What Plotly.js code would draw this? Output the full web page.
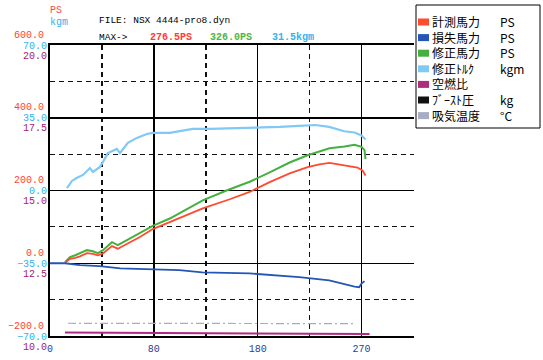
<!DOCTYPE html>
<html><head><meta charset="utf-8">
<script src="https://cdn.plot.ly/plotly-3.0.1.min.js"></script>
<style>html,body{margin:0;padding:0;background:#fff}#chart{width:543px;height:360px}</style>
</head><body><div id="chart"></div>
<script>
// ---- data ----
const rpmMeasured = [13, 17.3, 22, 26, 32, 37.2, 41.5, 45.9, 53.7, 58.8, 64.9, 77.9, 89.1, 103.8, 132.4, 155.8, 173.1, 190.4, 207.7, 223.3, 233.6, 242.3, 255.3, 266.5, 270.9, 273.5];
const psMeasured  = [1, 12, 15, 19, 28, 26, 22, 27, 47, 40, 50, 72, 94, 113, 151, 176, 196, 223, 247, 264, 272, 276, 270, 263, 255, 241];

const rpmCorrected = [13, 17.3, 22, 26, 32, 37.2, 41.5, 45.9, 53.7, 58.8, 64.9, 77.9, 89.1, 103.8, 132.4, 153, 173.1, 190.4, 207.7, 223.3, 242.3, 255.3, 263.9, 270, 272.6, 273.5];
const psCorrected  = [3, 17, 22, 27, 36, 33, 28, 36, 58, 50, 61, 83, 103, 123, 173, 200, 224, 250, 277, 297, 316, 321, 326, 320, 311, 286];

const rpmLoss = [0, 13, 26, 43, 61, 89, 112, 132, 153, 173, 216, 242, 264, 268, 270, 272.6];
const psLoss  = [0, 0, -5, -8, -14, -17, -19, -25, -27.5, -28, -38, -47, -64, -66, -56, -49];

const rpmTorque = [14.7, 19, 23, 28.6, 34.6, 37.2, 43.3, 50.2, 58, 60.6, 67.5, 75.3, 83.9, 89.1, 103.8, 115, 123.7, 138.5, 173, 199, 216, 230, 242, 255, 264, 270, 273.5];
const kgmTorque = [1.2, 4.6, 6, 7.5, 10.8, 8.9, 11.3, 18.0, 20.0, 18.0, 22.9, 25.3, 27.2, 27.7, 27.7, 28.6, 29.6, 29.6, 30.0, 30.6, 31.1, 31.5, 30.6, 28.5, 27.9, 26.5, 24.5];

const rpmAfr = [13, 60, 120, 180, 240, 277];
const afr    = [10.12, 10.11, 10.1, 10.09, 10.08, 10.07];

const rpmIntake = [15.6, 60, 120, 180, 240, 263.9];
const intakeOnPsScale = [-165, -165, -165, -166, -166, -166];

const xTickVals = [0, 90, 180, 270];
const xTickText = ['0', '80', '180', '270'];

const legendNames = ['計測馬力', '損失馬力', '修正馬力', '修正ﾄﾙｸ', '空燃比', 'ﾌﾞｰｽﾄ圧', '吸気温度'];
const legendUnits = ['PS', 'PS', 'PS', 'kgm', '', 'kg', '°C'];
const seriesColors = ['#ff4a2e', '#2456b8', '#45b040', '#80c8f6', '#b02a82', '#111111', '#a9adc4'];

const fileLabel = 'FILE: NSX 4444-pro8.dyn';
const maxPrefix = 'MAX->';
const maxLabels = ['276.5PS', '326.0PS', '31.5kgm'];

// ---- geometry ----
const L = 50, R = 414, T = 45, B = 336;
const px = p => (p - L) / (R - L);
const py = p => (B - p) / (B - T);
const MONO = 'Liberation Mono, DejaVu Sans Mono, monospace';
const JP = 'Noto Sans CJK JP, sans-serif';

const traces = [
  {x: rpmCorrected, y: psCorrected, yaxis: 'y', mode: 'lines', line: {color: seriesColors[2], width: 2}},
  {x: rpmMeasured, y: psMeasured, yaxis: 'y', mode: 'lines', line: {color: seriesColors[0], width: 1.8}},
  {x: rpmLoss, y: psLoss, yaxis: 'y', mode: 'lines', line: {color: seriesColors[1], width: 1.8}},
  {x: rpmTorque, y: kgmTorque, yaxis: 'y2', mode: 'lines', line: {color: seriesColors[3], width: 2.2}},
  {x: rpmAfr, y: afr, yaxis: 'y3', mode: 'lines', line: {color: seriesColors[4], width: 2}},
  {x: rpmIntake, y: intakeOnPsScale, yaxis: 'y', mode: 'lines', line: {color: seriesColors[6], width: 1.2, dash: '8px,3px,2px,3px'}}
];

const shapes = [];
const annotations = [];
// legend box
shapes.push({type: 'rect', xref: 'paper', yref: 'paper', x0: px(416), x1: px(540), y0: py(128), y1: py(5),
  line: {color: '#000', width: 1}, fillcolor: '#fff', layer: 'above'});
const rowGap = 15.6, firstRow = 22;
legendNames.forEach((name, i) => {
  const cy = firstRow + i * rowGap;
  shapes.push({type: 'rect', xref: 'paper', yref: 'paper', x0: px(418), x1: px(429), y0: py(cy + 3.5), y1: py(cy - 3.5),
    line: {width: 0}, fillcolor: seriesColors[i], layer: 'above'});
});
const midRow = firstRow + (legendNames.length - 1) / 2 * rowGap;
annotations.push({xref: 'paper', yref: 'paper', x: px(431), y: py(midRow), xanchor: 'left', yanchor: 'middle', align: 'left',
  text: legendNames.join('<br>'), showarrow: false, borderpad: 0, font: {family: JP, size: 12, color: '#000'}});
annotations.push({xref: 'paper', yref: 'paper', x: px(499), y: py(midRow), xanchor: 'left', yanchor: 'middle', align: 'left',
  text: legendUnits.map(u => u || '\u00a0').join('<br>'), showarrow: false, borderpad: 0, font: {family: JP, size: 12, color: '#000'}});

// header texts
const txt = (x, y, s, color, size, bold) => annotations.push({xref: 'paper', yref: 'paper', x: px(x), y: py(y),
  xanchor: 'left', yanchor: 'middle', text: bold ? '<b>' + s + '</b>' : s, showarrow: false, borderpad: 0,
  font: {family: MONO, size: size, color: color}});
txt(49, 11, 'PS', '#ff4a4a', 10, false);
txt(49, 22, 'kgm', '#33b4ee', 10, false);
txt(98, 20, fileLabel, '#000', 9.5, false);
txt(98, 37, maxPrefix, '#000', 9.5, false);
txt(149, 37, maxLabels[0], '#ff3b3b', 10, true);
txt(209, 37, maxLabels[1], '#4cb648', 10, true);
txt(271, 37, maxLabels[2], '#33b4ee', 10, true);

const layout = {
  width: 543, height: 360,
  margin: {l: L, r: 543 - R, t: T, b: 360 - B, pad: 0},
  paper_bgcolor: '#fff', plot_bgcolor: '#fff',
  showlegend: false,
  xaxis: {
    range: [0, 315.5], tickmode: 'array', tickvals: xTickVals, ticktext: xTickText,
    showgrid: true, gridcolor: '#000', gridwidth: 1.5,
    minor: {tick0: 0, dtick: 45, showgrid: true, gridcolor: '#111', gridwidth: 1.5, griddash: '5px,4px'},
    showline: true, linecolor: '#000', linewidth: 2, mirror: true, zeroline: false, ticks: '',
    tickfont: {family: MONO, size: 10, color: '#1f3f9a'}, ticklabelstandoff: 2
  },
  yaxis: {
    range: [-200, 600], tick0: 0, dtick: 200, tickformat: '.1f',
    showgrid: true, gridcolor: '#000', gridwidth: 1.5,
    minor: {tick0: 0, dtick: 100, showgrid: true, gridcolor: '#111', gridwidth: 1.2, griddash: '5px,4px'},
    showline: true, linecolor: '#000', linewidth: 2, zeroline: false, ticks: '',
    tickfont: {family: MONO, size: 10, color: '#ff4040'}, ticklabelshift: -11, ticklabelstandoff: 2
  },
  yaxis2: {
    overlaying: 'y', anchor: 'x', side: 'left', range: [-70, 70], tick0: 0, dtick: 35, tickformat: '.1f',
    showgrid: false, zeroline: false, showline: false, ticks: '',
    tickfont: {family: MONO, size: 10, color: '#2fb2ee'}, ticklabelstandoff: 2
  },
  yaxis3: {
    overlaying: 'y', anchor: 'x', side: 'left', range: [10, 20], tick0: 10, dtick: 2.5, tickformat: '.1f',
    showgrid: false, zeroline: false, showline: false, ticks: '',
    tickfont: {family: MONO, size: 10, color: '#a8206e'}, ticklabelshift: 10, ticklabelstandoff: 2
  },
  shapes: shapes,
  annotations: annotations
};

Plotly.newPlot('chart', traces, layout, {staticPlot: true, displayModeBar: false});
</script>
</body></html>
